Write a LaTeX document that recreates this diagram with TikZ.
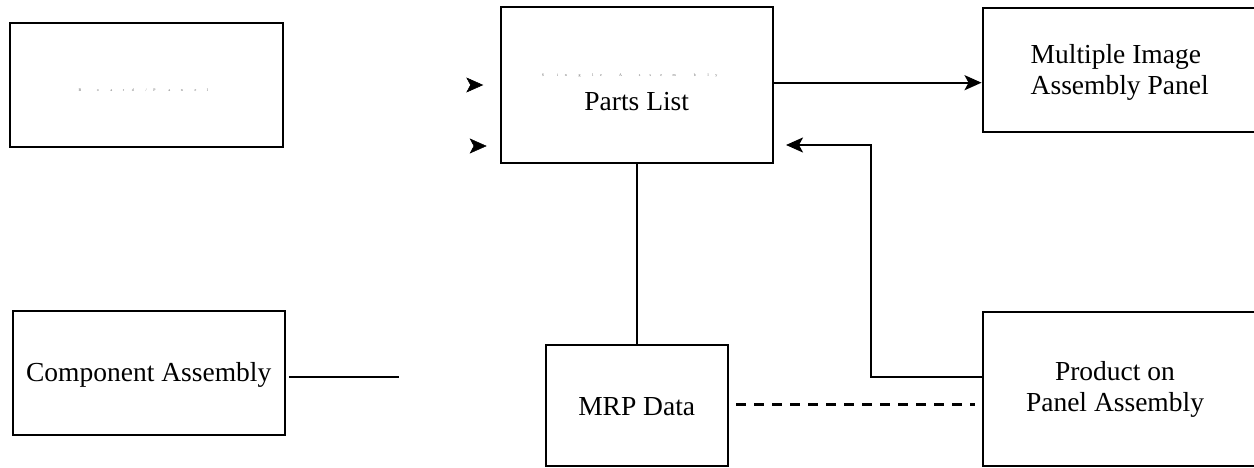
\documentclass[tikz,border=0pt]{standalone}
\usepackage{fontspec}
\setmainfont{Liberation Serif}
\usetikzlibrary{arrows.meta}
\newcommand{\tg}[1]{\sbox0{#1}\makebox[\wd0][l]{\fontsize{4}{4}\selectfont #1}}
\begin{document}
\begin{tikzpicture}[x=1pt,y=-1pt,
  box/.style={draw, line width=2.2pt, inner sep=0pt},
  lbl/.style={anchor=base, inner sep=0pt, font=\fontsize{27.5}{31}\selectfont},
  ghost/.style={anchor=base, inner sep=0pt, text=black!60, font=\fontsize{27.5}{31}\selectfont},
  conn/.style={line width=2.2pt},
  dashline/.style={line width=2.8pt, dash pattern=on 10pt off 8pt},
  arr/.style={-{Stealth[length=17pt,width=15pt,inset=4pt]}}]
\useasboundingbox (0,0) rectangle (1254,468);
\fill[white] (0,0) rectangle (1254,468);
% boxes
\node[box, minimum width=273pt, minimum height=124pt] (BP) at (146.5,85) {};
\node[box, minimum width=272pt, minimum height=156pt] (PL) at (636.7,85) {};
\node[box, minimum width=275.3pt, minimum height=123.4pt] (MI) at (1120.3,70) {};
\node[box, minimum width=272.6pt, minimum height=124pt] (CA) at (149,372.7) {};
\node[box, minimum width=182.3pt, minimum height=121pt] (MRP) at (637.2,405.5) {};
\node[box, minimum width=275.3pt, minimum height=154.3pt] (PPA) at (1120.3,388.8) {};
% texts
\node[ghost] (BPt) at (146.5,92) {\tg{B}\tg{o}\tg{a}\tg{r}\tg{d}\tg{/}\tg{P}\tg{a}\tg{n}\tg{e}\tg{l}};
\node[ghost] (PLs) at (635.5,77) {\tg{S}\tg{i}\tg{n}\tg{g}\tg{l}\tg{e} \tg{A}\tg{s}\tg{s}\tg{e}\tg{m}\tg{b}\tg{l}\tg{y}};
\node[lbl] (PLt) at (636.7,110.5) {Parts List};
\node[lbl, anchor=base west] (MIt1) at (1030.5,63.3) {Multiple Image};
\node[lbl, anchor=base west] (MIt2) at (1030.5,94.3) {Assembly Panel};
\node[lbl] (CAt) at (148.7,381.7) {Component Assembly};
\node[lbl] (MRPt) at (636.7,415) {MRP Data};
\node[lbl] (PPAt1) at (1115,380) {Product on};
\node[lbl] (PPAt2) at (1115,411.7) {Panel Assembly};
% connectors
\coordinate (y1) at (0,82.7);
\draw[conn,arr] (PL.east |- y1) -- (MI.west |- y1);
\draw[conn] (PL.south) -- (PL.south |- MRP.north);
\coordinate (caend) at (399,377.3);
\draw[conn] ([xshift=2.5pt]CA.east |- caend) -- (caend);
\coordinate (retY) at (0,377);
\coordinate (retC) at (871,145);
\coordinate (retT) at (786,145);
\draw[conn,arr] (PPA.west |- retY) -| (retC) -- (retT);
\coordinate (dashEnd) at (975,404.5);
\draw[dashline] ([xshift=7pt]MRP.east |- dashEnd) -- (dashEnd);
% standalone arrowheads
\coordinate (h1t) at (483.3,85);
\coordinate (h1b) at (470.3,85);
\coordinate (h2t) at (486.7,146);
\coordinate (h2b) at (473.7,146);
\draw[arr, line width=0.5pt] (h1b) -- (h1t);
\draw[arr, line width=0.5pt] (h2b) -- (h2t);
\end{tikzpicture}
\end{document}
